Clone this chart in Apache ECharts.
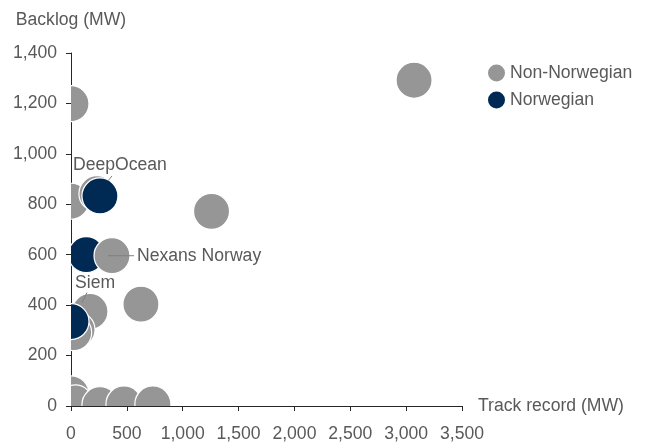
<!DOCTYPE html>
<html>
<head>
<meta charset="UTF-8">
<title></title>
<style>
	*{
		padding:0;
		margin:0;
	}
	#chart{
		width:649px;
		height:446px;
		background:#fff;
	}
</style>
</head>
<body>
<div id="chart"></div>
<script src="https://cdn.jsdelivr.net/npm/echarts@6/dist/echarts.min.js"></script>
<script>
// Non-Norwegian players (grey)
var nonNorTrack   = [0, 3071, 1258, 0, 232, 626, 170, 54, 24, 0, 36, 259, 474, 733];
var nonNorBacklog = [1199, 1292, 772, 812, 842, 404, 375, 302, 291, 48, 12, 5, 8, 8];
var nonNorNames   = ['', '', '', '', '', '', '', '', '', '', '', '', '', ''];

// Norwegian players (navy)
var norTrack   = [259, 137, 0];
var norBacklog = [833, 600, 335];
var norNames   = ['DeepOcean', '', 'Siem'];

// grey bubble drawn on top of the navy one at 600
var nexansTrack   = [367];
var nexansBacklog = [596];
var nexansNames   = ['Nexans Norway'];

var xTicks = [0, 500, 1000, 1500, 2000, 2500, 3000, 3500];
var yTicks = [0, 200, 400, 600, 800, 1000, 1200, 1400];

var GREY = '#969696';
var NAVY = '#002a54';
var TXT = '#595959';
var FONT = '"Liberation Sans", Arial, sans-serif';
var FS = 17.6;

// where each callout sits relative to its bubble
var callouts = {
	'DeepOcean':     {tx: -27, ty: -31, line: [8, -15, 12, -20]},
	'Siem':          {tx: 4,   ty: -38, line: [11, -19, 16, -29]},
	'Nexans Norway': {tx: 25,  ty: 0,   line: [-4, 0, 22, 0]}
};

function makeSeries(name, xs, ys, names, color){
	var data = [];
	for (var i = 0; i < xs.length; i++) data.push([xs[i], ys[i]]);
	return {
		name: name,
		type: 'custom',
		clip: true,
		itemStyle: {color: color},
		encode: {x: 0, y: 1},
		data: data,
		renderItem: function(params, api){
			var p = api.coord([api.value(0), api.value(1)]);
			var kids = [{
				type: 'circle',
				shape: {cx: p[0], cy: p[1], r: 18},
				style: {fill: color, stroke: '#fff', lineWidth: 1.2}
			}];
			var lbl = names[params.dataIndex];
			var c = callouts[lbl];
			if (c) {
				kids.push({
					type: 'line',
					shape: {x1: p[0] + c.line[0], y1: p[1] + c.line[1], x2: p[0] + c.line[2], y2: p[1] + c.line[3]},
					style: {stroke: '#7f7f7f', lineWidth: 1}
				});
				kids.push({
					type: 'text',
					style: {
						text: lbl, x: p[0] + c.tx, y: p[1] + c.ty,
						fill: TXT, fontSize: FS, fontFamily: FONT,
						align: 'left', verticalAlign: 'middle'
					}
				});
			}
			return {type: 'group', children: kids};
		}
	};
}

function fmt(v){
	return String(v).replace(/\B(?=(\d{3})+(?!\d))/g, ',');
}

var chart = echarts.init(document.getElementById('chart'));
var option = {
	animation: false,
	textStyle: {fontFamily: FONT},
	grid: {left: 71, right: 187, top: 53, bottom: 40},
	legend: {
		orient: 'vertical',
		left: 483,
		top: 59,
		icon: 'circle',
		itemWidth: 17,
		itemHeight: 17,
		itemGap: 9,
		data: ['Non-Norwegian', 'Norwegian'],
		textStyle: {color: TXT, fontSize: FS, fontFamily: FONT}
	},
	xAxis: {
		type: 'value',
		min: xTicks[0],
		max: xTicks[xTicks.length - 1],
		interval: xTicks[1] - xTicks[0],
		name: 'Track record (MW)',
		nameLocation: 'end',
		nameGap: 16,
		nameTextStyle: {color: TXT, fontSize: FS, fontFamily: FONT},
		axisLine: {show: true, lineStyle: {color: '#262626', width: 1}},
		axisTick: {show: true, length: 5, lineStyle: {color: '#262626'}},
		axisLabel: {color: TXT, fontSize: FS, margin: 19, formatter: fmt},
		splitLine: {show: false}
	},
	yAxis: {
		type: 'value',
		min: yTicks[0],
		max: yTicks[yTicks.length - 1],
		interval: yTicks[1] - yTicks[0],
		name: 'Backlog (MW)',
		nameLocation: 'end',
		nameGap: 24,
		nameTextStyle: {color: TXT, fontSize: FS, fontFamily: FONT},
		axisLine: {show: true, lineStyle: {color: '#262626', width: 1}},
		axisTick: {show: true, length: 5, lineStyle: {color: '#262626'}},
		axisLabel: {color: TXT, fontSize: FS, margin: 14, formatter: fmt},
		splitLine: {show: false}
	},
	series: [
		makeSeries('Non-Norwegian', nonNorTrack, nonNorBacklog, nonNorNames, GREY),
		makeSeries('Norwegian', norTrack, norBacklog, norNames, NAVY),
		makeSeries('Non-Norwegian', nexansTrack, nexansBacklog, nexansNames, GREY)
	]
};
chart.setOption(option);
</script>
</body>
</html>
